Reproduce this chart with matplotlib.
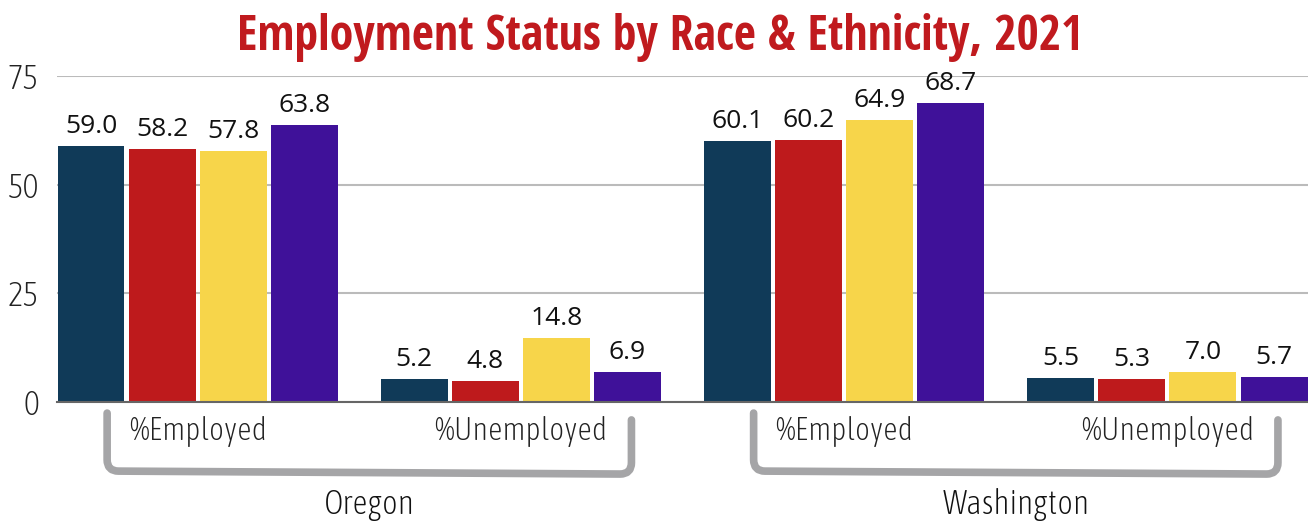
import matplotlib.pyplot as plt
import numpy as np
from matplotlib import font_manager
from matplotlib.path import Path
from matplotlib.patches import PathPatch

# === data ===
states = ["Oregon", "Washington"]
categories = ["Oregon %Employed", "Oregon %Unemployed",
              "Washington %Employed", "Washington %Unemployed"]
tick_labels = ["%Employed", "%Unemployed", "%Employed", "%Unemployed"]

group_1 = [59.0, 5.2, 60.1, 5.5]
group_2 = [58.2, 4.8, 60.2, 5.3]
group_3 = [57.8, 14.8, 64.9, 7.0]
group_4 = [63.8, 6.9, 68.7, 5.7]

series = [group_1, group_2, group_3, group_4]
colors = ["#103a58", "#be1a1c", "#f7d54a", "#3f1199"]

# === fonts: look for condensed faces ===
names = {f.name for f in font_manager.fontManager.ttflist}
narrow = [n for n in ["Liberation Sans Narrow", "Open Sans Condensed", "Roboto Condensed"] if n in names]
title_prop = dict(family=narrow + ["Open Sans", "DejaVu Sans"], fontweight="bold")

fonts = font_manager.fontManager.ttflist
cond = [f for f in fonts if ("Condensed" in f.name or "Narrow" in f.name
                             or f.stretch in ("condensed", "semi-condensed"))]
light_cond = sorted([f for f in cond if f.weight in (300, "light", 200, "extra-light", 400, "normal", "regular")],
                    key=lambda f: str(f.weight))
if light_cond:
    lf = light_cond[0]
    light_prop = dict(family=[lf.name, "DejaVu Sans"], fontweight=lf.weight, fontstretch=lf.stretch)
else:
    light_prop = dict(family=["Open Sans", "DejaVu Sans"], fontweight="light")

# === plot ===
fig = plt.figure(figsize=(13.08, 5.25), dpi=100)
ax = fig.add_axes([0.0436, 0.2343, 0.9564, 0.621])

x = np.arange(len(categories))
step = 0.22
width = 0.207
for i, (vals, c) in enumerate(zip(series, colors)):
    pos = x + (i - 1.5) * step
    ax.bar(pos, vals, width, color=c, zorder=3)
    for px, v in zip(pos, vals):
        ax.annotate(f"{v:.1f}", (px, v), xytext=(0, 5), textcoords="offset points",
                    ha="center", va="bottom", fontsize=19, family="Open Sans",
                    color="#111111")

ax.set_xlim(-0.435, 3.435)
ax.set_ylim(0, 75)
ax.set_yticks([0, 25, 50, 75])
ax.yaxis.grid(True, color="#bbbbbb", linewidth=1.5, zorder=0)
for s in ["left", "right", "top"]:
    ax.spines[s].set_visible(False)
ax.spines["bottom"].set_color("#666666")
ax.spines["bottom"].set_linewidth(1.5)
ax.spines["bottom"].set_zorder(4)
ax.tick_params(axis="y", length=0, pad=13, labelsize=24, labelcolor="#222222")
ax.tick_params(axis="x", length=0, pad=10, labelsize=23, labelcolor="#222222")
ax.set_xticks(x)
ax.set_xticklabels(tick_labels, **light_prop)
ax.set_yticklabels(["0", "25", "50", "75"], **light_prop)

# brackets under each state (rounded corners)
trans = ax.get_xaxis_transform()
r = 0.035
for k, st in enumerate(states):
    left = 2 * k - 0.28
    right = 2 * k + 1 + 0.342
    yl_top, yl_bot, yr_bot, yr_top = -0.034, -0.212, -0.221, -0.055
    verts = [(left, yl_top), (left, yl_bot + r), (left, yl_bot), (left + r, yl_bot),
             (right - r, yr_bot), (right, yr_bot), (right, yr_bot + r), (right, yr_top)]
    codes = [Path.MOVETO, Path.LINETO, Path.CURVE3, Path.CURVE3,
             Path.LINETO, Path.CURVE3, Path.CURVE3, Path.LINETO]
    ax.add_patch(PathPatch(Path(verts, codes), transform=trans, facecolor="none",
                           edgecolor="#a5a5a7", linewidth=5.5, capstyle="round",
                           joinstyle="round", clip_on=False))
    ax.text((left + right) / 2, -0.315, st, transform=trans, ha="center", va="center",
            fontsize=24, color="#111111", **light_prop)

fig.text(0.505, 0.928, "Employment Status by Race & Ethnicity, 2021", ha="center",
         va="center", fontsize=34.5, color="#c01a1e", **title_prop)

fig.savefig("out.png", dpi=100)
